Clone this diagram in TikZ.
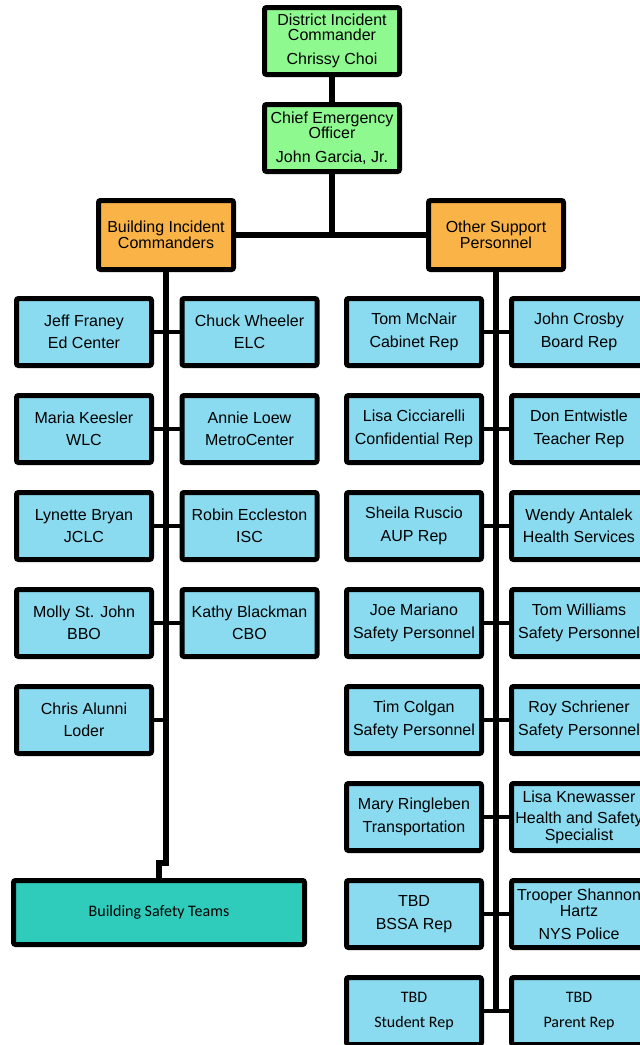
\documentclass[tikz,border=0pt]{standalone}
\usepackage{fontspec}
\setmainfont{Liberation Sans}
\newfontfamily\carlito{Carlito}
\definecolor{gr}{HTML}{8EF98E}
\definecolor{orng}{HTML}{F9B347}
\definecolor{bl}{HTML}{8ADBF0}
\definecolor{tl}{HTML}{30CCBB}
\begin{document}
\begin{tikzpicture}[x=1pt,y=-1pt,
  box/.style={draw=black, line width=5pt, rounded corners=2pt, minimum width=135pt, minimum height=67pt, align=center, inner sep=0pt, text=black, font=\fontsize{16}{15.5}\selectfont},
  gbox/.style={box, fill=gr},
  obox/.style={box, fill=orng, minimum height=69pt},
  bbox/.style={box, fill=bl},
  cbox/.style={box, fill=bl, font=\carlito\fontsize{16}{16}\selectfont},
  trunk/.style={line width=5.5pt},
  link/.style={line width=4.5pt}]
\useasboundingbox (0,0) rectangle (640,1045);
% connectors
\coordinate (lbend1) at (166,863);
\coordinate (lbend2) at (159,863);
\coordinate (rb) at (496,1011);
% top
\node[gbox] (dic) at (332,41) {District Incident\\Commander\\[8.5pt]Chrissy Choi};
\node[gbox] (ceo) at (332,138) {Chief Emergency\\Officer\\[8.5pt]John Garcia, Jr.};
\node[obox] (bic) at (166,235) {Building Incident\\Commanders};
\node[obox] (osp) at (496,235) {Other Support\\Personnel};
\draw[trunk] (dic.south) -- (ceo.north);
\draw[trunk] (ceo.south) -- (ceo.south |- bic.east);
\draw[trunk] (bic.east) -- (osp.west);
% left column
\node[bbox] (l1) at (84,332) {Jeff Franey\\[7pt]Ed Center};
\node[bbox] (r1) at (249.5,332) {Chuck Wheeler\\[7pt]ELC};
\node[bbox] (l2) at (84,429) {Maria Keesler\\[7pt]WLC};
\node[bbox] (r2) at (249.5,429) {Annie Loew\\[7pt]MetroCenter};
\node[bbox] (l3) at (84,526) {Lynette Bryan\\[7pt]JCLC};
\node[bbox] (r3) at (249.5,526) {Robin Eccleston\\[7pt]ISC};
\node[bbox] (l4) at (84,623) {Molly St. John\\[7pt]BBO};
\node[bbox] (r4) at (249.5,623) {Kathy Blackman\\[7pt]CBO};
\node[bbox] (l5) at (84,720) {Chris Alunni\\[7pt]Loder};
\node[box, fill=tl, minimum width=291pt, minimum height=64pt, font=\carlito\fontsize{16}{16}\selectfont] (bst) at (159,912.5) {Building Safety Teams};
\draw[trunk] (bic.south) -- (lbend1) -- (lbend2) -- (bst.north);
\foreach \i in {1,2,3,4} \draw[link] (l\i.east) -- (r\i.west);
\draw[link] (l5.east) -- (l5.east -| lbend1);
% right column
\node[bbox] (a1) at (414,332) {Tom McNair\\[7pt]Cabinet Rep};
\node[bbox] (b1) at (579,332) {John Crosby\\[7pt]Board Rep};
\node[bbox] (a2) at (414,429) {Lisa Cicciarelli\\[7pt]Confidential Rep};
\node[bbox] (b2) at (579,429) {Don Entwistle\\[7pt]Teacher Rep};
\node[bbox] (a3) at (414,526) {Sheila Ruscio\\[7pt]AUP Rep};
\node[bbox] (b3) at (579,526) {Wendy Antalek\\[7pt]Health Services};
\node[bbox] (a4) at (414,623) {Joe Mariano\\[7pt]Safety Personnel};
\node[bbox] (b4) at (579,623) {Tom Williams\\[7pt]Safety Personnel};
\node[bbox] (a5) at (414,720) {Tim Colgan\\[7pt]Safety Personnel};
\node[bbox] (b5) at (579,720) {Roy Schriener\\[7pt]Safety Personnel};
\node[bbox] (a6) at (414,817) {Mary Ringleben\\[7pt]Transportation};
\node[bbox] (b6) at (579,817) {Lisa Knewasser\\[6pt]Health and Safety\\[1pt]Specialist};
\node[bbox] (a7) at (414,914) {TBD\\[7pt]BSSA Rep};
\node[bbox] (b7) at (579,914) {Trooper Shannon\\[1pt]Hartz\\[7pt]NYS Police};
\node[cbox] (a8) at (414,1011) {TBD\\[9pt]Student Rep};
\node[cbox] (b8) at (579,1011) {TBD\\[9pt]Parent Rep};
\draw[trunk] (osp.south) -- (rb);
\foreach \i in {1,...,8} \draw[link] (a\i.east) -- (b\i.west);
\end{tikzpicture}
\end{document}
